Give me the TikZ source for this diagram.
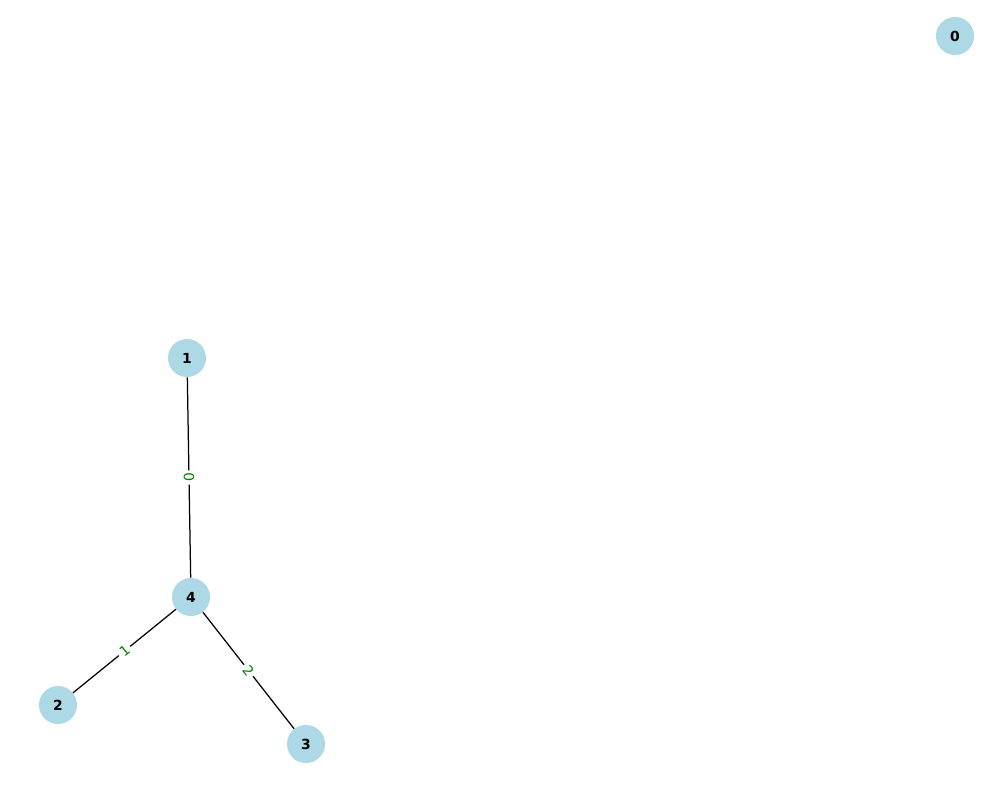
\documentclass[tikz,border=0pt]{standalone}
\usepackage{fontspec}
\setmainfont{DejaVu Sans}
\begin{document}
\begin{tikzpicture}[x=0.72pt,y=-0.72pt,
  vertex/.style={circle,fill={rgb,255:red,173;green,216;blue,230},minimum size=27.4pt,inner sep=0pt,font=\fontsize{10}{12}\selectfont\bfseries},
  edgelab/.style={fill=white,inner sep=2pt,text={rgb,255:red,0;green,128;blue,0},font=\fontsize{10}{12}\selectfont},
  link/.style={draw=black,line width=0.9pt}]
\useasboundingbox (0,0) rectangle (1000,800);
\node[vertex] (n0) at (955,36) {0};
\node[vertex] (n1) at (187,358) {1};
\node[vertex] (n4) at (191,597) {4};
\node[vertex] (n2) at (58,705) {2};
\node[vertex] (n3) at (306,744) {3};
\path[link] (n1) -- (n4) node[midway,sloped,edgelab,rotate=180] {0};
\path[link] (n4) -- (n2) node[midway,sloped,edgelab] {1};
\path[link] (n4) -- (n3) node[midway,sloped,edgelab] {2};
\end{tikzpicture}
\end{document}
